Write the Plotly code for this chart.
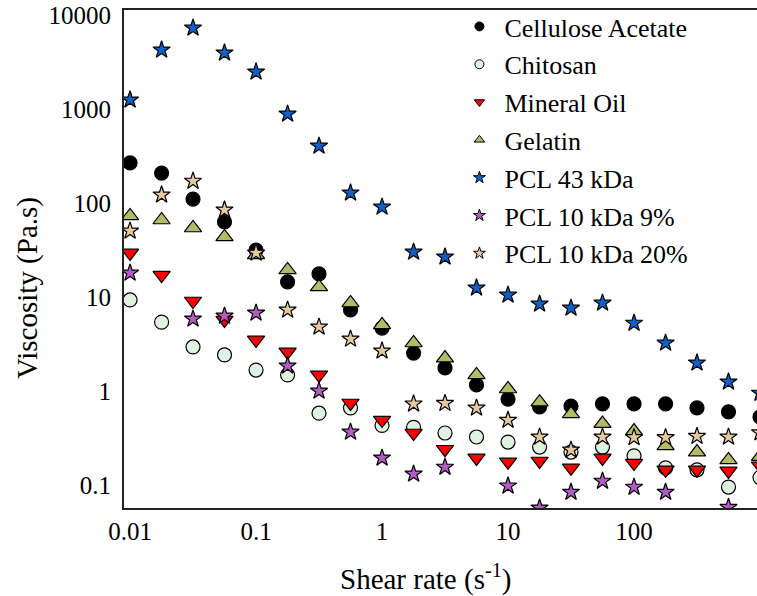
import plotly.graph_objects as go

# Shear rate (s^-1)
shear = [0.01, 0.0178, 0.0316, 0.0562, 0.1, 0.178, 0.316, 0.562, 1.0, 1.78,
         3.16, 5.62, 10.0, 17.8, 31.6, 56.2, 100.0, 178.0, 316.0, 562.0, 1000.0]

# Viscosity (Pa.s)
cellulose_acetate = [267, 208, 110, 62.8, 31.6, 14.5, 17.6, 7.27, 4.67, 2.53,
                     1.76, 1.16, 0.82, 0.676, 0.69, 0.73, 0.73, 0.73, 0.66, 0.60, 0.53]
chitosan = [9.3, 5.4, 2.94, 2.42, 1.67, 1.48, 0.58, 0.66, 0.43, 0.41,
            0.357, 0.324, 0.286, 0.253, 0.224, 0.253, 0.204, 0.152, 0.145, 0.095, 0.12]
mineral_oil = [29.4, 17.1, 9.06, 5.69, 3.49, 2.6, 1.48, 0.745, 0.49, 0.357,
               0.24, 0.194, 0.176, 0.18, 0.152, 0.194, 0.171, 0.145, 0.145, 0.141, 0.16]
gelatin = [72.8, 65.9, 54.2, 43.5, 28, 19.4, 12.8, 8.63, 5.04, 3.24,
           2.24, 1.48, 1.05, 0.76, 0.57, 0.45, 0.375, 0.26, 0.224, 0.185, 0.2]
pcl_43 = [1250, 4250, 7280, 3950, 2480, 885, 404, 128, 90.6, 30.1,
          26.7, 12.5, 10.5, 8.43, 7.64, 8.63, 5.28, 3.24, 1.99, 1.25, 0.95]
pcl_10_9 = [18, None, 5.84, 6.28, 6.76, 1.85, 1.0, 0.366, 0.194, 0.131,
            0.155, None, 0.098, 0.057, 0.084, 0.110, 0.095, 0.084, 0.04, 0.058, 0.04]
pcl_10_20 = [50.4, 122, 171, 84.4, 29.4, 7.27, 4.8, 3.57, 2.67, 0.73,
             0.74, 0.66, 0.49, 0.324, 0.236, 0.324, 0.32, 0.32, 0.33, 0.324, 0.36]

series_names = ["Cellulose Acetate", "Chitosan", "Mineral Oil", "Gelatin",
                "PCL 43 kDa", "PCL 10 kDa 9%", "PCL 10 kDa 20%"]
series_values = [cellulose_acetate, chitosan, mineral_oil, gelatin,
                 pcl_43, pcl_10_9, pcl_10_20]
symbols = ["circle", "circle", "triangle-down", "triangle-up", "star", "star", "star"]
colors = ["#000000", "#dff2df", "#ff0000", "#b3bb66", "#0d62c9", "#b45cc4", "#e8c8a0"]
sizes = [14, 14, 15, 15, 13, 13, 13]

x_ticks = [0.01, 0.1, 1, 10, 100]
x_ticklabels = ["0.01", "0.1", "1", "10", "100"]
y_ticks = [0.1, 1, 10, 100, 1000, 10000]
y_ticklabels = ["0.1", "1", "10", "100", "1000", "10000"]

FONT = "Liberation Serif"

fig = go.Figure()
for name, vals, sym, col, sz in zip(series_names, series_values, symbols, colors, sizes):
    fig.add_trace(go.Scatter(
        x=shear, y=vals, mode="markers", name=name, showlegend=False,
        marker=dict(symbol=sym, color=col, size=sz,
                    line=dict(color="#000000", width=1.2)),
    ))
# legend entries (small symbols, as in the reference)
for i, (name, sym, col) in enumerate(zip(series_names, symbols, colors)):
    fig.add_trace(go.Scatter(
        x=[None], y=[None], mode="markers", name=name, legendgroup=str(i),
        marker=dict(symbol=sym, color=col, size=9,
                    line=dict(color="#000000", width=1)),
    ))

fig.update_layout(
    width=757, height=596,
    margin=dict(l=124, r=0, t=10, b=88),
    paper_bgcolor="white", plot_bgcolor="white",
    font=dict(family=FONT, size=25, color="#000000"),
    showlegend=True,
    legend=dict(x=0.522, y=1.014, xanchor="left", yanchor="top",
                bgcolor="rgba(0,0,0,0)", traceorder="grouped",
                tracegroupgap=1, itemwidth=40,
                font=dict(family=FONT, size=26, color="#000000")),
)
fig.update_xaxes(
    type="log", range=[-2.048, 2.976],
    tickvals=x_ticks, ticktext=x_ticklabels,
    showgrid=False, zeroline=False, ticks="",
    showline=True, linecolor="#222222", linewidth=2, mirror=True,
    tickfont=dict(family=FONT, size=25),
)
fig.update_yaxes(
    type="log", range=[-1.245, 4.053],
    tickvals=y_ticks, ticktext=y_ticklabels,
    showgrid=False, zeroline=False, ticks="",
    showline=True, linecolor="#222222", linewidth=2, mirror=False,
    ticklabelstandoff=6,
    tickfont=dict(family=FONT, size=25),
)
fig.add_annotation(
    text="Viscosity (Pa.s)", textangle=-90, showarrow=False,
    xref="paper", yref="paper", x=-0.1517, y=0.4418,
    xanchor="center", yanchor="middle",
    font=dict(family=FONT, size=29, color="#000000"),
)
fig.add_annotation(
    text="Shear rate (s<sup>-1</sup>)", showarrow=False,
    xref="paper", yref="paper", x=0.477, y=-0.1386,
    xanchor="center", yanchor="middle",
    font=dict(family=FONT, size=29, color="#000000"),
)

fig.write_html("out.html")
